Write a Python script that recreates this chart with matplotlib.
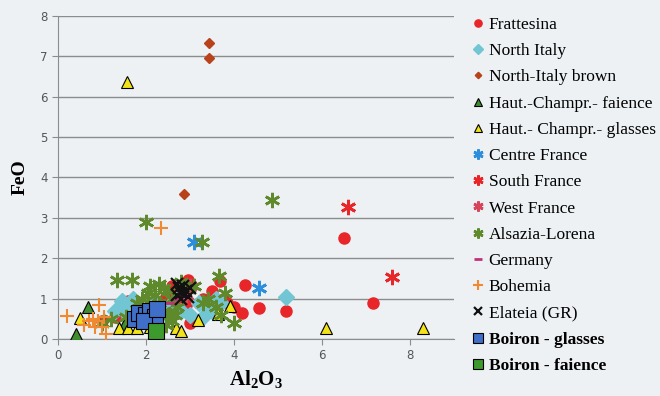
import matplotlib.pyplot as plt

# Al2O3 vs FeO for glass groups
frat_x = [1.0, 1.3, 1.6, 2.0, 2.3, 2.6, 2.7, 2.9, 3.0, 3.2, 3.4, 3.5, 3.6, 3.67, 3.85, 4.0, 4.17, 4.24,
          4.56, 5.19, 6.49, 7.15, 1.5, 2.45, 2.95, 3.3, 3.75]
frat_y = [0.45, 0.55, 0.95, 0.7, 0.9, 1.3, 0.95, 0.85, 0.4, 0.9, 0.8, 1.2, 0.65, 1.44, 0.9, 0.8, 0.64, 1.34,
          0.77, 0.69, 2.5, 0.89, 0.75, 1.05, 1.45, 1.0, 1.0]

nital_x = [1.3, 1.5, 1.6, 1.8, 2.0, 2.2, 2.5, 2.8, 3.0, 3.2, 3.3, 3.5, 3.6, 5.19, 1.45, 1.7, 2.35, 3.4, 3.7]
nital_y = [0.7, 0.85, 0.6, 0.8, 0.75, 0.9, 0.8, 0.7, 0.6, 0.9, 0.55, 0.7, 1.0, 1.04, 0.95, 1.0, 0.6, 0.85, 0.9]

nital_brown_x = [3.44, 3.44, 2.87]
nital_brown_y = [7.33, 6.96, 3.59]

hc_faience_x = [0.41, 0.68, 1.5]
hc_faience_y = [0.12, 0.79, 0.35]

hc_glass_x = [1.57, 0.5, 1.39, 1.6, 1.8, 2.1, 2.69, 2.8, 3.19, 3.64, 3.9, 6.08, 8.29]
hc_glass_y = [6.36, 0.52, 0.27, 0.27, 0.27, 0.3, 0.27, 0.2, 0.47, 0.62, 0.82, 0.27, 0.27]

centre_x = [3.1, 4.56]
centre_y = [2.4, 1.26]

south_x = [6.58, 7.59]
south_y = [3.27, 1.53]

west_x = [2.9, 3.0]
west_y = [1.1, 1.3]

alsace_x = [2.0, 3.28, 4.87, 1.34, 1.69, 1.9, 2.1, 2.2, 2.3, 2.4, 2.5, 2.6, 2.7, 2.8, 3.1,
            3.3, 3.4, 3.6, 3.65, 3.8, 4.0, 3.7, 2.2, 2.4, 2.6, 1.2, 1.0,
            2.05, 2.3, 2.5, 2.65, 2.15, 2.45, 1.55, 1.8]
alsace_y = [2.9, 2.4, 3.44, 1.45, 1.45, 1.0, 1.3, 1.1, 0.9, 1.25, 0.6, 1.0, 0.8, 1.4, 1.3,
            0.9, 1.0, 0.8, 1.55, 1.15, 0.4, 0.6, 0.5, 0.7, 0.45, 0.5, 0.4,
            1.15, 1.35, 1.2, 0.6, 0.8, 0.35, 0.55, 0.9]

germany_x = [2.5, 2.7]
germany_y = [0.9, 1.0]

bohemia_x = [2.35, 0.2, 0.93, 0.7, 0.8, 0.9, 1.0, 1.1, 0.85, 1.05, 0.6]
bohemia_y = [2.75, 0.57, 0.84, 0.45, 0.5, 0.45, 0.3, 0.12, 0.3, 0.55, 0.35]

elateia_x = [2.7, 2.75, 2.8, 2.85, 2.9, 2.95, 2.8, 2.7, 3.0]
elateia_y = [1.1, 1.25, 1.15, 1.3, 1.2, 1.05, 1.0, 1.35, 1.25]

boiron_glass_x = [1.75, 1.85, 2.0, 2.1, 2.2, 1.95, 2.25]
boiron_glass_y = [0.5, 0.65, 0.6, 0.7, 0.55, 0.45, 0.75]

boiron_faience_x = [2.23]
boiron_faience_y = [0.2]

asterisk = (6, 2, 0)
bg = "#edf1f4"

plt.rcParams["mathtext.fontset"] = "custom"
plt.rcParams["mathtext.rm"] = "Liberation Serif:bold"
plt.rcParams["mathtext.bf"] = "Liberation Serif:bold"

fig = plt.figure(figsize=(6.6, 3.96), dpi=100, facecolor=bg)
ax = fig.add_axes([0.088, 0.144, 0.6, 0.816], facecolor=bg)

series = [
    (frat_x, frat_y, "Frattesina", dict(marker="o", ms=8, color="#e8262a", mec="#e8262a")),
    (nital_x, nital_y, "North Italy", dict(marker="D", ms=8, color="#72c5d2", mec="#72c5d2")),
    (nital_brown_x, nital_brown_y, "North-Italy brown", dict(marker="D", ms=5, color="#b8421a", mec="#b8421a")),
    (hc_faience_x, hc_faience_y, "Haut.-Champr.- faience", dict(marker="^", ms=9, color="#3e8e2e", mec="black", mew=0.8)),
    (hc_glass_x, hc_glass_y, "Haut.- Champr.- glasses", dict(marker="^", ms=9, color="#f2e21a", mec="black", mew=0.8)),
    (centre_x, centre_y, "Centre France", dict(marker=asterisk, ms=11, color="#2d8fdc", mew=2)),
    (south_x, south_y, "South France", dict(marker=asterisk, ms=11, color="#e8262a", mew=2)),
    (west_x, west_y, "West France", dict(marker=asterisk, ms=11, color="#d6455a", mew=2)),
    (alsace_x, alsace_y, "Alsazia-Lorena", dict(marker=asterisk, ms=11, color="#5f8a2c", mew=1.9)),
    (germany_x, germany_y, "Germany", dict(marker="_", ms=9, color="#c2307a", mew=2)),
    (bohemia_x, bohemia_y, "Bohemia", dict(marker="+", ms=10, color="#f08a32", mew=1.5)),
    (elateia_x, elateia_y, "Elateia (GR)", dict(marker="x", ms=9, color="#111111", mew=1.6)),
    (boiron_glass_x, boiron_glass_y, "Boiron - glasses", dict(marker="s", ms=11, color="#3f6fc8", mec="black", mew=0.8)),
    (boiron_faience_x, boiron_faience_y, "Boiron - faience", dict(marker="s", ms=11, color="#3d9a2c", mec="black", mew=0.8)),
]

handles = []
for xs, ys, name, style in series:
    h, = ax.plot(xs, ys, ls="none", label=name, zorder=3, **style)
    handles.append(h)

ax.set_xlim(0, 9)
ax.set_ylim(0, 8)
ax.set_xticks([0, 2, 4, 6, 8])
ax.set_yticks(range(0, 9))
ax.yaxis.grid(True, color="#8c8c8c", lw=1)
ax.set_axisbelow(True)
for side in ("top", "right"):
    ax.spines[side].set_visible(False)
for side in ("left", "bottom"):
    ax.spines[side].set_color("#8c8c8c")
ax.tick_params(colors="#8c8c8c", labelcolor="#555555", labelsize=8.5, length=4)

ax.set_ylabel("FeO", family="Liberation Serif", fontweight="bold", fontsize=14, labelpad=8)
ax.set_xlabel("Al$_\\mathbf{2}$O$_\\mathbf{3}$", family="Liberation Serif", fontweight="bold",
              fontsize=15, labelpad=4)

leg = fig.legend(handles=handles, loc="upper left", bbox_to_anchor=(0.705, 0.975),
                 frameon=False, prop={"family": "Liberation Serif", "size": 12.5},
                 handlelength=0.7, handletextpad=0.25, labelspacing=0.58, markerscale=0.65,
                 borderaxespad=0)
for t in leg.get_texts()[-2:]:
    t.set_fontweight("bold")

fig.savefig("out.png", dpi=100, facecolor=bg)
